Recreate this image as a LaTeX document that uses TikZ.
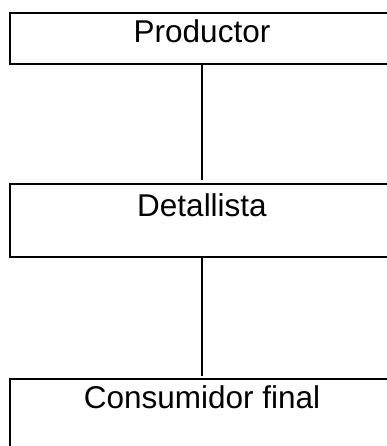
\documentclass[tikz,border=0pt]{standalone}
\usepackage{fontspec}
\setmainfont{Liberation Sans}
\begin{document}
\begin{tikzpicture}
  [x=1pt,y=-1pt,line width=1.8pt,
   every node/.style={draw,shape=rectangle,anchor=north,inner sep=0pt,
     minimum width=384pt,font=\fontsize{31.5}{37}\selectfont}]
  \tikzstyle{level} = [text height=30pt]
  \clip[use as bounding box] (0,0) rectangle (387,446);
  \node[level,text depth=21pt,minimum height=51pt] (prod) at (202,12)  {Productor};
  \node[level,text height=33pt,text depth=40pt,minimum height=73pt] (det) at (202,183) {Detallista};
  \node[level,text depth=70pt,minimum height=100pt] (cons) at (202,378) {Consumidor final};
  \foreach \source /\dest in {prod/det,det/cons}
   \draw[shorten >=2.5pt] (\source) -- (\dest);
\end{tikzpicture}
\end{document}
